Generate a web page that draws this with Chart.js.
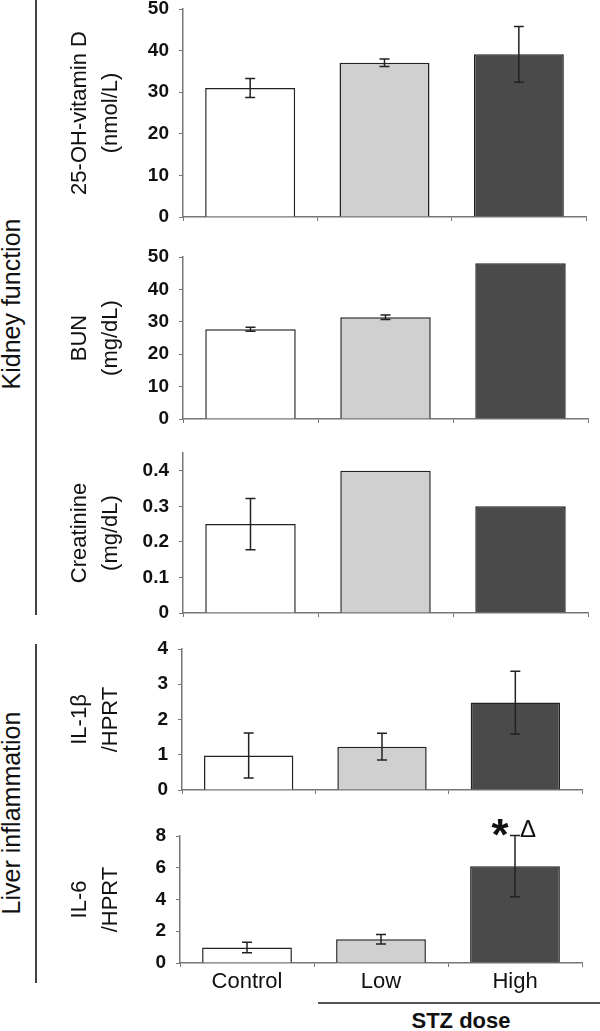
<!DOCTYPE html>
<html>
<head>
<title>STZ dose panels</title>
<script src="https://cdn.jsdelivr.net/npm/chart.js@4.4.0/dist/chart.umd.min.js"></script>
<style>
  body { margin: 0; background: #fff; overflow: hidden; }
  #page { position: relative; width: 600px; height: 1031px; font-family: "Liberation Sans", Arial, sans-serif; color: #111; }
  canvas { position: absolute; left: 0; }
  .side { position: absolute; font-size: 25px; line-height: 1; white-space: nowrap; transform: translate(-50%, -50%) rotate(-90deg); }
  .vline { position: absolute; left: 35px; width: 2px; background: #444; }
</style>
</head>
<body>
<div id="page">
  <div class="vline" style="top:0; height:615px"></div>
  <div class="vline" style="top:644px; height:339px"></div>
  <div class="side" style="left:11px; top:304px">Kidney function</div>
  <div class="side" style="left:11px; top:813px">Liver inflammation</div>
  <div style="position:absolute; left:318px; top:1002px; width:282px; border-top:2px solid #555"></div>
  <div style="position:absolute; left:461px; top:1021px; transform:translate(-50%,-50%); font-weight:bold; font-size:22px; white-space:nowrap">STZ dose</div>
</div>

<script>
// dane
const kategorie = ['Control', 'Low', 'High'];
const kolory = ['#ffffff', '#d0d0d0', '#4a4a4a'];

const vitD = [31.0, 37.1, 39.1];
const vitDErr = [2.3, 0.9, 6.7];
const bun = [27.7, 31.4, 48.1];
const bunErr = [0.6, 0.7, 0];
const kreatynina = [0.25, 0.40, 0.30];
const kreatyninaErr = [0.072, 0, 0];
const il1b = [0.98, 1.23, 2.48];
const il1bErr = [0.64, 0.38, 0.89];
const il6 = [0.97, 1.5, 6.1];
const il6Err = [0.33, 0.3, 1.93];

// osie y: [max, krok]
const vitDOs = [50, 10];
const bunOs = [50, 10];
const kreatyninaOs = [0.45, 0.1];
const il1bOs = [4, 1];
const il6Os = [8, 2];

// panele: polozenie obszaru wykresu na stronie
const panele = [
  { tytul: ['25-OH-vitamin D', '(nmol/L)'], dane: vitD, err: vitDErr, os: vitDOs, T: 9, B: 217, L: 183, R: 586 },
  { tytul: ['BUN', '(mg/dL)'], dane: bun, err: bunErr, os: bunOs, T: 257, B: 419, L: 183, R: 588 },
  { tytul: ['Creatinine', '(mg/dL)'], dane: kreatynina, err: kreatyninaErr, os: kreatyninaOs, T: 453, B: 613, L: 183, R: 588 },
  { tytul: ['IL-1\u03b2', '/HPRT'], dane: il1b, err: il1bErr, os: il1bOs, T: 649, B: 790, L: 182, R: 582 },
  { tytul: ['IL-6', '/HPRT'], dane: il6, err: il6Err, os: il6Os, T: 836, B: 963, L: 180, R: 582, etykiety: true, gwiazdka: 2 }
];

// slupki bledow + oznaczenia istotnosci
const bledy = {
  id: 'bledy',
  afterDatasetsDraw(chart, args, opts) {
    const ctx = chart.ctx;
    const y = chart.scales.y;
    const meta = chart.getDatasetMeta(0);
    const vals = chart.data.datasets[0].data;
    ctx.save();
    ctx.strokeStyle = '#222';
    ctx.lineWidth = 1.5;
    meta.data.forEach((bar, i) => {
      const e = opts.err[i];
      if (!e) return;
      const top = y.getPixelForValue(vals[i] + e);
      const bot = y.getPixelForValue(vals[i] - e);
      ctx.beginPath();
      ctx.moveTo(bar.x, top); ctx.lineTo(bar.x, bot);
      ctx.moveTo(bar.x - 5, top); ctx.lineTo(bar.x + 5, top);
      ctx.moveTo(bar.x - 5, bot); ctx.lineTo(bar.x + 5, bot);
      ctx.stroke();
    });
    if (opts.gwiazdka !== undefined) {
      const i = opts.gwiazdka;
      const bar = meta.data[i];
      const top = y.getPixelForValue(vals[i] + opts.err[i]);
      ctx.fillStyle = '#111';
      ctx.textAlign = 'center';
      ctx.textBaseline = 'alphabetic';
      ctx.font = 'bold 44px "Liberation Sans", Arial, sans-serif';
      ctx.fillText('*', bar.x - 15, top + 14);
      ctx.font = '24px "Liberation Sans", Arial, sans-serif';
      ctx.fillText('\u0394', bar.x + 13, top + 1);
    }
    ctx.restore();
  }
};

const strona = document.getElementById('page');
const szary = '#777';

panele.forEach(p => {
  const hx = p.etykiety ? 40 : 30;
  const c = document.createElement('canvas');
  const h = 30 + (p.B - p.T) + hx;
  c.width = 600; c.height = h;
  c.style.top = (p.T - 30) + 'px';
  strona.appendChild(c);

  new Chart(c.getContext('2d'), {
    type: 'bar',
    data: {
      labels: kategorie,
      datasets: [{
        data: p.dane,
        backgroundColor: kolory,
        borderColor: '#222',
        borderWidth: 1.5,
        barPercentage: 0.67,
        categoryPercentage: 1
      }]
    },
    plugins: [bledy],
    options: {
      responsive: false,
      animation: false,
      layout: { padding: { top: 30, left: 64.5, right: 600 - p.R, bottom: 0 } },
      plugins: {
        legend: { display: false },
        tooltip: { enabled: false },
        bledy: { err: p.err, gwiazdka: p.gwiazdka }
      },
      scales: {
        x: {
          grid: { offset: true, drawOnChartArea: false, drawTicks: true, tickLength: 4, color: szary },
          border: { color: szary, width: 1.5 },
          ticks: {
            display: !!p.etykiety,
            padding: 2,
            color: '#111',
            font: { family: '"Liberation Sans", Arial, sans-serif', size: 22 }
          },
          afterFit: s => { s.height = hx; }
        },
        y: {
          min: 0,
          max: p.os[0],
          grid: { drawOnChartArea: false, drawTicks: true, tickLength: 4, color: szary },
          border: { color: szary, width: 1.5 },
          ticks: {
            stepSize: p.os[1],
            includeBounds: false,
            padding: 10,
            color: '#111',
            font: { family: '"Liberation Sans", Arial, sans-serif', size: 19, weight: 'bold' },
            callback: v => String(Number(v.toFixed(2)))
          },
          title: {
            display: true,
            text: p.tytul,
            color: '#111',
            padding: 0,
            font: { family: '"Liberation Sans", Arial, sans-serif', size: 22, lineHeight: 1.4 }
          },
          afterFit: s => { s.width = p.L - 64.5; }
        }
      }
    }
  });
});
</script>
</body>
</html>
